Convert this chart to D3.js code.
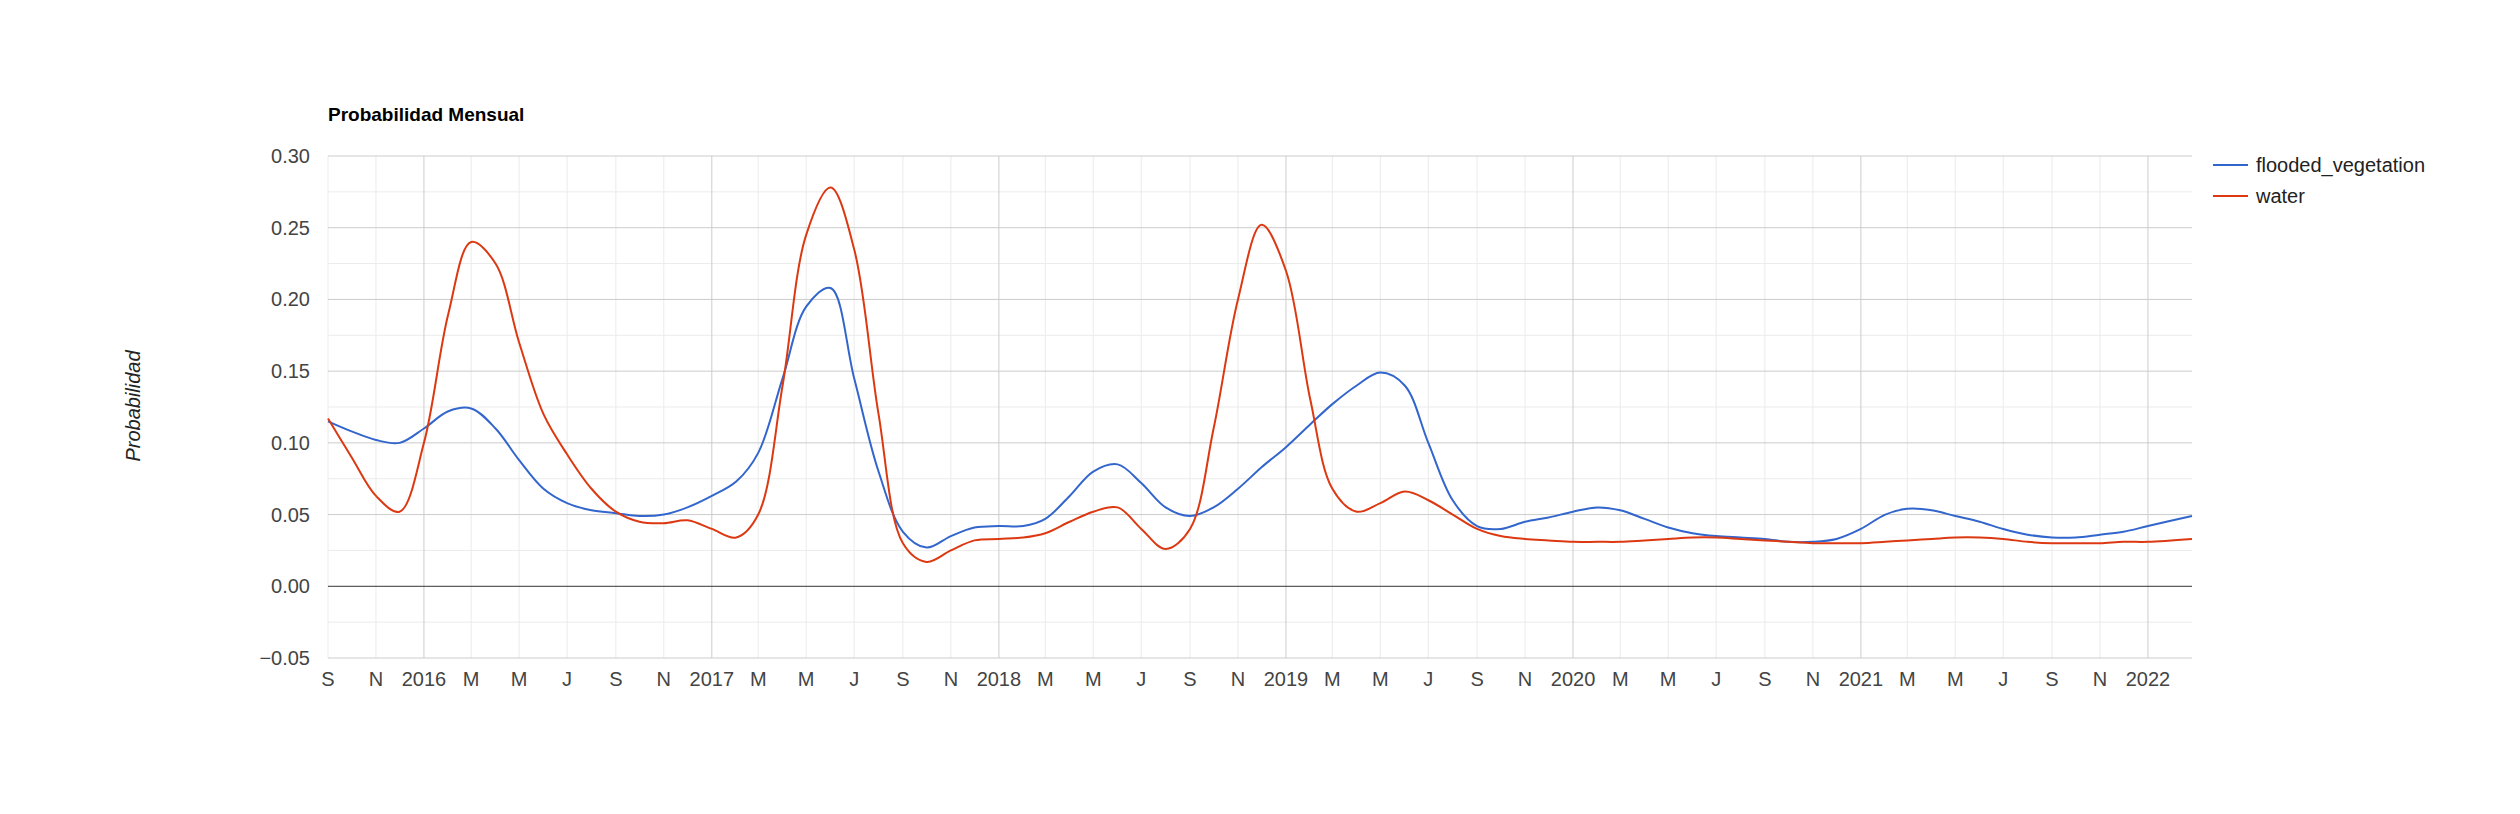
<!DOCTYPE html>
<html>
<head>
<meta charset="utf-8">
<script src="https://cdn.jsdelivr.net/npm/d3@7"></script>
<style>
  body { margin: 0; background: #fff; }
  text { font-family: "Liberation Sans", Arial, sans-serif; }
</style>
</head>
<body>
<div class="chart"></div>
<script>
// monthly values, Sep 2015 .. Feb 2022
var floodedVegetation = [0.115,0.108,0.102,0.100,0.110,0.122,0.124,0.110,0.088,0.068,0.058,0.053,
  0.051,0.049,0.050,0.055,0.063,0.073,0.093,0.145,0.195,0.208,0.145,0.080,
  0.038,0.027,0.035,0.041,0.042,0.042,0.047,0.063,0.080,0.085,0.072,0.055,
  0.049,0.055,0.068,0.083,0.097,0.113,0.127,0.140,0.149,0.140,0.100,0.060,
  0.042,0.040,0.045,0.048,0.052,0.055,0.053,0.047,0.041,0.037,0.035,0.034,
  0.033,0.031,0.031,0.033,0.040,0.050,0.054,0.053,0.049,0.045,0.040,0.036,
  0.034,0.034,0.036,0.038,0.042,0.049];
var water = [0.117,0.090,0.063,0.052,0.100,0.190,0.240,0.225,0.170,0.120,0.092,0.068,
  0.052,0.045,0.044,0.046,0.040,0.034,0.050,0.140,0.245,0.278,0.235,0.120,
  0.030,0.017,0.025,0.032,0.033,0.034,0.037,0.045,0.052,0.055,0.040,0.026,
  0.040,0.110,0.200,0.252,0.220,0.130,0.068,0.052,0.058,0.066,0.060,0.050,
  0.040,0.035,0.033,0.032,0.031,0.031,0.031,0.032,0.033,0.034,0.034,0.033,
  0.032,0.031,0.030,0.030,0.030,0.031,0.032,0.033,0.034,0.034,0.033,0.031,
  0.030,0.030,0.030,0.031,0.031,0.033];
var seriesNames = ["flooded_vegetation", "water"];
var seriesColors = ["#3366cc", "#dc3912"];
var yTicks = [-0.05, 0, 0.05, 0.10, 0.15, 0.20, 0.25, 0.30];
var monthLetters = ["J","F","M","A","M","J","J","A","S","O","N","D"];

var start = new Date(2015, 8, 1), end = new Date(2022, 1, 26);
var dates = floodedVegetation.map(function(d, i) { return d3.timeMonth.offset(start, i); });
dates[dates.length - 1] = end;

var W = 2520, H = 814;
var plotLeft = 328, plotRight = 2192, plotTop = 156, plotBottom = 658;

var svg = d3.select(".chart").append("svg").attr("width", W).attr("height", H);

var x = d3.scaleTime().domain([start, end]).range([plotLeft, plotRight]);
var y = d3.scaleLinear().domain([-0.05, 0.30]).range([plotBottom, plotTop]);

// minor horizontal grid
var minorY = d3.range(-0.025, 0.30, 0.05);
svg.append("g").selectAll("line").data(minorY).enter().append("line")
  .attr("x1", plotLeft).attr("x2", plotRight)
  .attr("y1", function(d) { return y(d); }).attr("y2", function(d) { return y(d); })
  .attr("stroke", "#ebebeb");

var monthTicks = d3.timeMonth.every(2).range(start, end);
svg.append("g").selectAll("line").data(monthTicks).enter().append("line")
  .attr("x1", function(d) { return x(d); }).attr("x2", function(d) { return x(d); })
  .attr("y1", plotTop).attr("y2", plotBottom)
  .attr("stroke", function(d) { return d.getMonth() === 0 ? "#cccccc" : "#ebebeb"; });

svg.append("g").selectAll("line").data(yTicks).enter().append("line")
  .attr("x1", plotLeft).attr("x2", plotRight)
  .attr("y1", function(d) { return y(d); }).attr("y2", function(d) { return y(d); })
  .attr("stroke", function(d) { return d === 0 ? "#333" : "#cccccc"; });

svg.append("g").selectAll("text").data(yTicks).enter().append("text")
  .attr("x", 310).attr("y", function(d) { return y(d) + 7; })
  .attr("text-anchor", "end").attr("font-size", 20).attr("fill", "#444")
  .text(function(d) { return d3.format(".2f")(d); });

svg.append("g").selectAll("text").data(monthTicks).enter().append("text")
  .attr("x", function(d) { return x(d); }).attr("y", 686)
  .attr("text-anchor", "middle").attr("font-size", 20).attr("fill", "#444")
  .text(function(d) { return d.getMonth() === 0 ? d.getFullYear() : monthLetters[d.getMonth()]; });

var line = d3.line()
  .x(function(d, i) { return x(dates[i]); })
  .y(function(d) { return y(d); })
  .curve(d3.curveCatmullRom.alpha(0.5));

[floodedVegetation, water].forEach(function(s, k) {
  svg.append("path").datum(s).attr("d", line)
    .attr("fill", "none").attr("stroke", seriesColors[k]).attr("stroke-width", 2);
});

svg.append("text").attr("x", 328).attr("y", 121)
  .attr("font-size", 19).attr("font-weight", "bold").text("Probabilidad Mensual");

svg.append("text").attr("transform", "translate(140,406) rotate(-90)")
  .attr("text-anchor", "middle").attr("font-size", 20).attr("font-style", "italic")
  .attr("fill", "#222").text("Probabilidad");

seriesNames.forEach(function(n, k) {
  var ly = 165 + k * 31;
  svg.append("line").attr("x1", 2213).attr("x2", 2248).attr("y1", ly).attr("y2", ly)
    .attr("stroke", seriesColors[k]).attr("stroke-width", 2);
  svg.append("text").attr("x", 2256).attr("y", ly + 7).attr("font-size", 20)
    .attr("fill", "#222").text(n);
});
</script>
</body>
</html>
